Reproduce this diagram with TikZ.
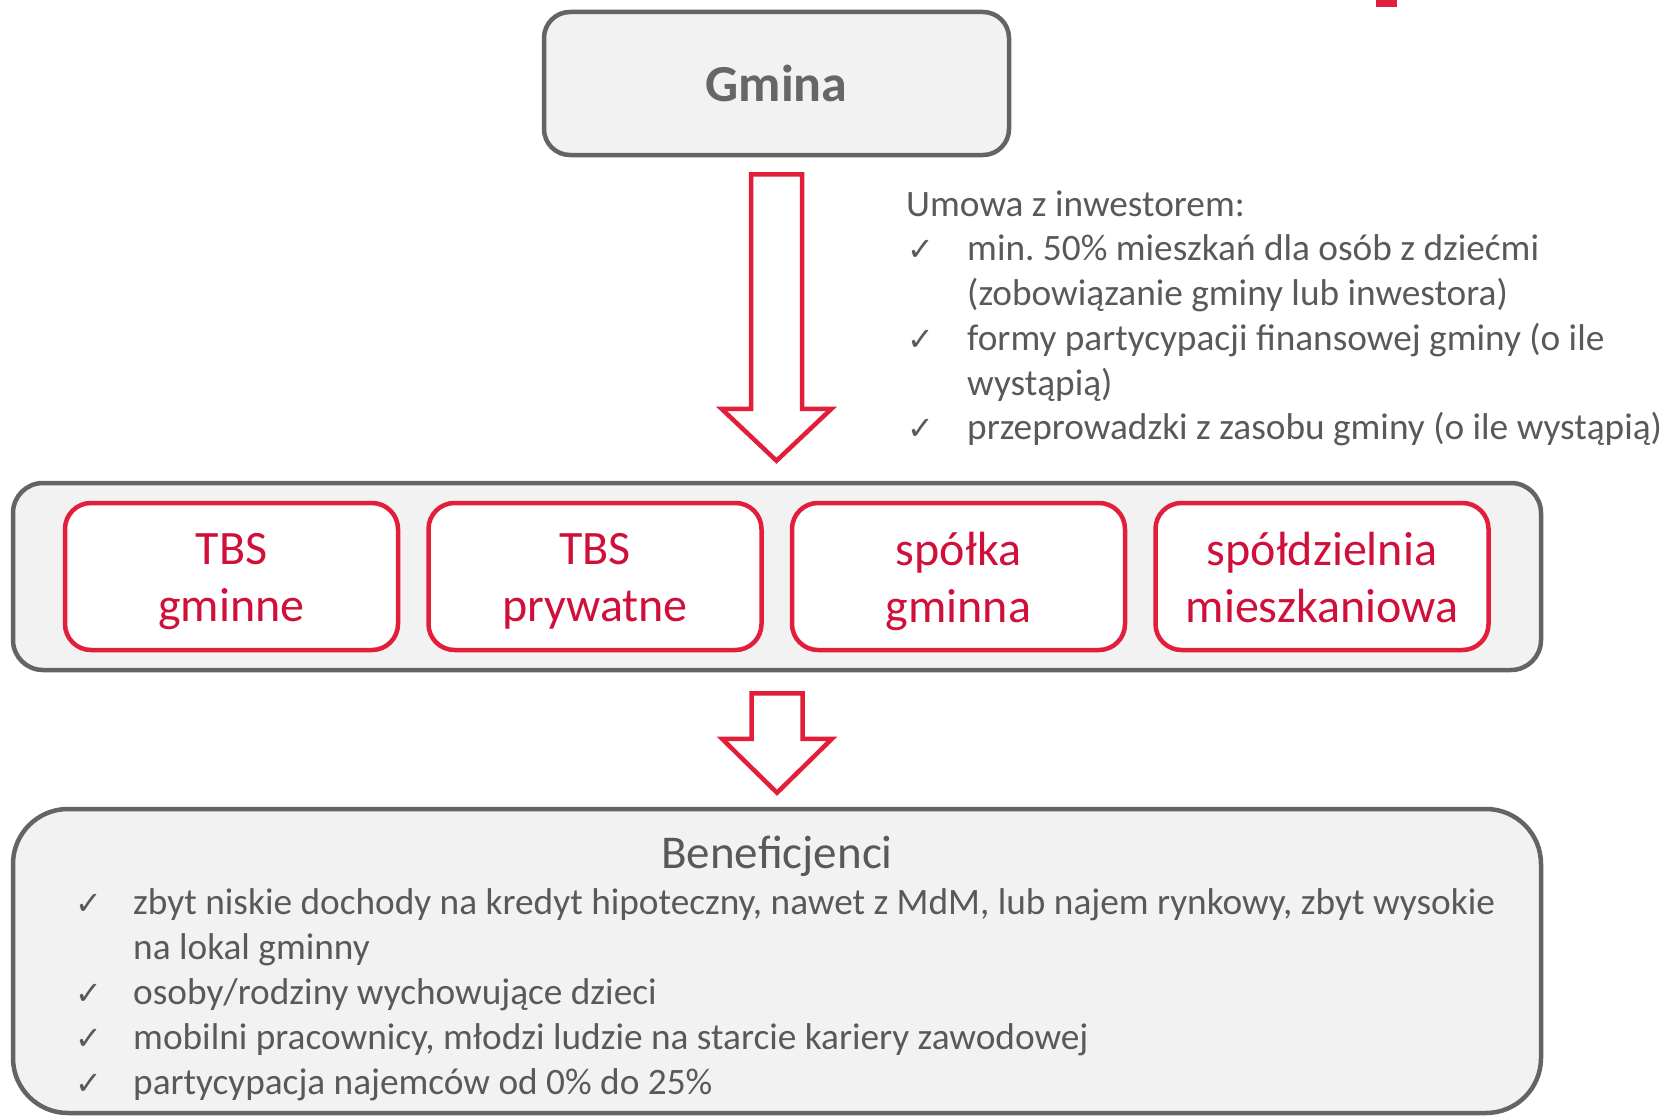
\documentclass[tikz,border=0pt]{standalone}
\usepackage{fontspec}
\setmainfont{Carlito}
\newfontfamily\symfont{DejaVu Sans}
\usetikzlibrary{calc}
\frenchspacing
\definecolor{tred}{RGB}{226,30,58}
\definecolor{tredtext}{RGB}{208,16,58}
\definecolor{tgray}{RGB}{100,100,100}
\definecolor{tfill}{RGB}{242,242,242}
\definecolor{ttext}{RGB}{89,89,89}
\definecolor{gtext}{RGB}{102,102,102}
\begin{document}
\begin{tikzpicture}[x=1pt,y=-1pt,
  graybox/.style={draw=tgray, line width=4.5pt, fill=tfill, inner sep=0pt},
  redbox/.style={draw=tred, line width=4.5pt, fill=white, rounded corners=26pt,
    minimum width=333pt, minimum height=147pt, inner sep=0pt},
  redtxt/.style={inner sep=0pt, align=center, text=tredtext, font=\fontsize{48}{57}\selectfont},
  bigarrow/.style={draw=tred, line width=4.5pt, fill=white, line join=miter},
  listtxt/.style={anchor=base west, inner sep=0pt, align=left, text=ttext,
    font=\fontsize{37.3}{44.6}\selectfont},
  chk/.style={anchor=base, inner sep=0pt, text=ttext, font=\symfont\fontsize{32}{32}\selectfont}
]
\useasboundingbox (0,0) rectangle (1666,1116);
\fill[tred] (1376,0) rectangle (1397,7);

% Gmina
\node[graybox, rounded corners=26pt, minimum width=465pt, minimum height=143pt,
  text=gtext, font=\bfseries\fontsize{52}{60}\selectfont] (gmina) at (776.5,83.5) {Gmina};

% middle container
\node[graybox, rounded corners=30pt, minimum width=1528pt, minimum height=187pt] (mid) at (777,576.5) {};
\node[redbox] (b1) at (231.5,576.5) {};
\node[redbox] (b2) at (595,576.5) {};
\node[redbox] (b3) at (958.5,576.5) {};
\node[redbox] (b4) at (1322,576.5) {};
\node[redtxt] (t1) at ($(b1)+(0,5)$) {TBS\\gminne};
\node[redtxt] (t2) at ($(b2)+(0,5)$) {TBS\\prywatne};
\node[redtxt] (t3) at ($(b3)+(0,5)$) {spółka\\gminna};
\node[redtxt] (t4) at ($(b4)+(0,5)$) {spółdzielnia\\mieszkaniowa\vphantom{g}};

% bottom container
\node[graybox, rounded corners=55pt, minimum width=1528pt, minimum height=304pt] (ben) at (777,961) {};
\node[anchor=base, inner sep=0pt, text=ttext, font=\fontsize{47}{57}\selectfont] (bent) at (777,868) {Beneficjenci};

% arrows
\coordinate (a1top) at ($(gmina.south)+(0,17)$);
\coordinate (a1tip) at ($(mid.north)+(0,-20)$);
\draw[bigarrow] let \p1=(a1top), \p2=(a1tip) in
  (\x1-25.5pt,\y1) -- (\x1+25.5pt,\y1) -- (\x1+25.5pt,\y2+52pt) -- (\x1+55pt,\y2+52pt)
  -- (\x1,\y2) -- (\x1-55pt,\y2+52pt) -- (\x1-25.5pt,\y2+52pt) -- cycle;
\coordinate (a2top) at ($(mid.south)+(0,21)$);
\coordinate (a2tip) at ($(ben.north)+(0,-14)$);
\draw[bigarrow] let \p1=(a2top), \p2=(a2tip) in
  (\x1-25.5pt,\y1) -- (\x1+25.5pt,\y1) -- (\x1+25.5pt,\y2+54pt) -- (\x1+55pt,\y2+54pt)
  -- (\x1,\y2) -- (\x1-55pt,\y2+54pt) -- (\x1-25.5pt,\y2+54pt) -- cycle;

% right list (multi-line nodes: base = last line)
\node[listtxt] (uh) at (906,216) {Umowa z inwestorem:};
\node[chk] (c1) at (921,260) {✓};
\node[listtxt] (u1) at (967,305) {min. 50\% mieszkań dla osób z dziećmi\\(zobowiązanie gminy lub inwestora)};
\node[chk] (c2) at (921,350) {✓};
\node[listtxt] (u2) at (967,395) {formy partycypacji finansowej gminy (o ile\\wystąpią)};
\node[chk] (c3) at (921,439) {✓};
\node[listtxt] (u3) at (967,439) {przeprowadzki z zasobu gminy (o ile wystąpią)};

% bottom list
\node[chk] (d1) at (89,914) {✓};
\node[listtxt] (l1) at (133,959) {zbyt niskie dochody na kredyt hipoteczny, nawet z MdM, lub najem rynkowy, zbyt wysokie\\na lokal gminny};
\node[chk] (d2) at (89,1004) {✓};
\node[listtxt] (l2) at (133,1004) {osoby/rodziny wychowujące dzieci};
\node[chk] (d3) at (89,1049) {✓};
\node[listtxt] (l3) at (133,1049) {mobilni pracownicy, młodzi ludzie na starcie kariery zawodowej};
\node[chk] (d4) at (89,1094) {✓};
\node[listtxt] (l4) at (133,1094) {partycypacja najemców od 0\% do 25\%};
\end{tikzpicture}
\end{document}
